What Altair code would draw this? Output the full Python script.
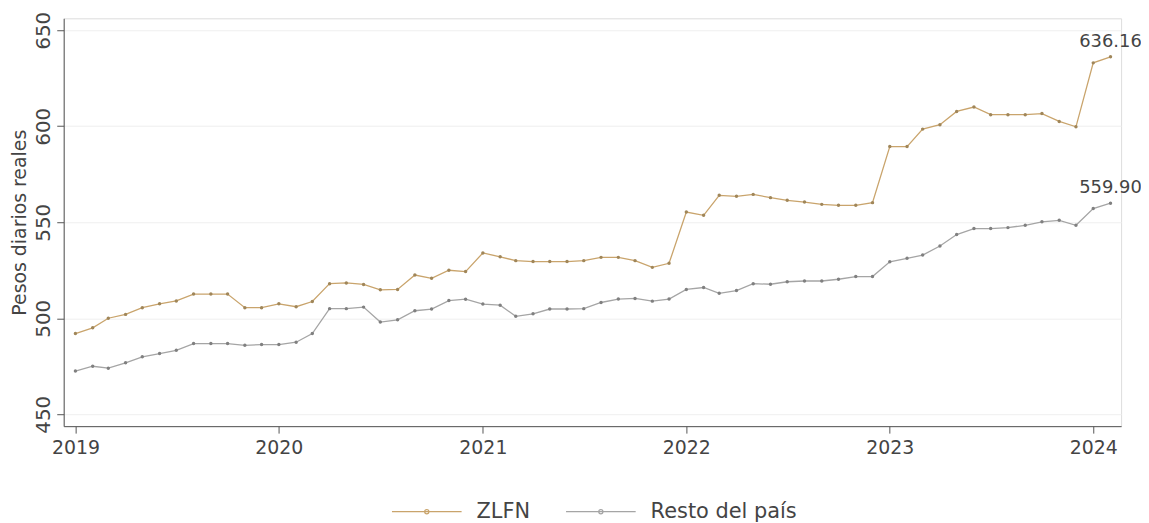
import altair as alt
import pandas as pd

years = [2019, 2020, 2021, 2022, 2023, 2024]
months = [f"{y}-{m:02d}-01" for y in years for m in range(1, 13)][:62]

zlfn = [492.0, 495.0, 500.0, 502.0, 505.5, 507.5, 509.0, 512.6, 512.6, 512.6, 505.5, 505.5,
        507.5, 506.0, 508.7, 518.0, 518.4, 517.6, 514.8, 515.0, 522.5, 520.8, 525.0, 524.3,
        534.0, 532.0, 530.0, 529.5, 529.5, 529.5, 530.0, 531.7, 531.7, 530.0, 526.5, 528.6,
        555.3, 553.6, 564.0, 563.5, 564.5, 562.8, 561.4, 560.5, 559.3, 558.8, 558.8, 560.2,
        589.4, 589.4, 598.5, 600.8, 607.7, 610.0, 606.0, 606.0, 606.0, 606.6, 602.5, 599.7,
        633.0, 636.16]

resto = [472.5, 475.0, 474.0, 476.8, 479.9, 481.6, 483.3, 486.8, 486.8, 486.8, 485.9, 486.3,
         486.3, 487.5, 492.0, 505.0, 505.0, 505.8, 498.0, 499.2, 503.9, 504.8, 509.2, 509.9,
         507.4, 506.8, 501.0, 502.3, 504.8, 504.8, 505.0, 508.2, 510.0, 510.3, 508.9, 510.0,
         515.0, 516.0, 513.0, 514.4, 518.0, 517.7, 519.0, 519.4, 519.4, 520.3, 521.7, 521.7,
         529.4, 531.2, 532.9, 537.6, 543.6, 546.7, 546.7, 547.2, 548.4, 550.2, 551.0, 548.4,
         557.1, 559.90]

series_names = ["ZLFN", "Resto del país"]
line_colors = ["#c9a46c", "#a5a5a5"]
point_colors = ["#a08659", "#808080"]
y_ticks = [450, 500, 550, 600, 650]

rows = []
for name, vals in zip(series_names, [zlfn, resto]):
    for d, v in zip(months, vals):
        rows.append({"fecha": d, "valor": v, "serie": name})
df = pd.DataFrame(rows)
last = df.groupby("serie").tail(1).copy()
last["etiqueta"] = last["valor"].map(lambda v: f"{v:.2f}")

FONT = "DejaVu Sans"
TXT = "#444444"

x_enc = alt.X(
    "fecha:T",
    scale=alt.Scale(
        type="utc",
        domain=[alt.DateTime(year=2018, month=12, date=11, utc=True),
                alt.DateTime(year=2024, month=2, date=20, utc=True)],
    ),
    axis=alt.Axis(
        title=None,
        values=[alt.DateTime(year=y, month=1, date=1, utc=True) for y in years],
        format="%Y",
        grid=False,
        domainColor="#555555",
        tickColor="#555555",
        tickSize=7,
        labelFontSize=19,
        labelColor=TXT,
        labelPadding=5,
        labelFont=FONT,
    ),
)

y_enc = alt.Y(
    "valor:Q",
    scale=alt.Scale(domain=[443.8, 656.2], nice=False, zero=False),
    axis=alt.Axis(
        title="Pesos diarios reales",
        values=y_ticks,
        labelAngle=270,
        labelAlign="center",
        labelBaseline="bottom",
        labelFontSize=20,
        labelColor=TXT,
        labelPadding=3,
        labelFont=FONT,
        grid=True,
        gridColor="#efefef",
        domainColor="#555555",
        tickColor="#555555",
        tickSize=7,
        titleFontSize=19,
        titleFontWeight="normal",
        titleColor=TXT,
        titleFont=FONT,
        titlePadding=4,
    ),
)

lines = alt.Chart(df).mark_line(strokeWidth=1.3).encode(
    x=x_enc,
    y=y_enc,
    color=alt.Color(
        "serie:N",
        scale=alt.Scale(domain=series_names, range=line_colors),
        sort=series_names,
        legend=alt.Legend(
            orient="none",
            legendX=329,
            legendY=460,
            direction="horizontal",
            title=None,
            symbolType="M-1,0H1M-0.06,0A0.06,0.06 0 1,1 0.06,0A0.06,0.06 0 1,1 -0.06,0",
            symbolSize=4900,
            symbolStrokeWidth=1.2,
            labelFontSize=21,
            labelFont=FONT,
            labelColor=TXT,
            labelOffset=14,
            columnPadding=33,
            padding=0,
        ),
    ),
)

points = alt.Chart(df).mark_point(filled=True, size=12, opacity=1).encode(
    x="fecha:T",
    y="valor:Q",
    color=alt.Color(
        "serie:N",
        scale=alt.Scale(domain=series_names, range=point_colors),
        legend=None,
    ),
)

labels = alt.Chart(last).mark_text(
    dy=-15, fontSize=18, font=FONT, color=TXT, align="center", baseline="middle"
).encode(x="fecha:T", y="valor:Q", text="etiqueta:N")

chart = (
    alt.layer(lines, points, labels)
    .resolve_scale(color="independent")
    .properties(
        width=1063,
        height=410,
        padding={"left": 56, "top": 9, "right": 20, "bottom": 96},
        autosize=alt.AutoSizeParams(type="none"),
    )
    .configure_view(stroke=None)
    .configure(font=FONT)
)

chart.save("out.html", embed_options={"renderer": "svg", "actions": False})
